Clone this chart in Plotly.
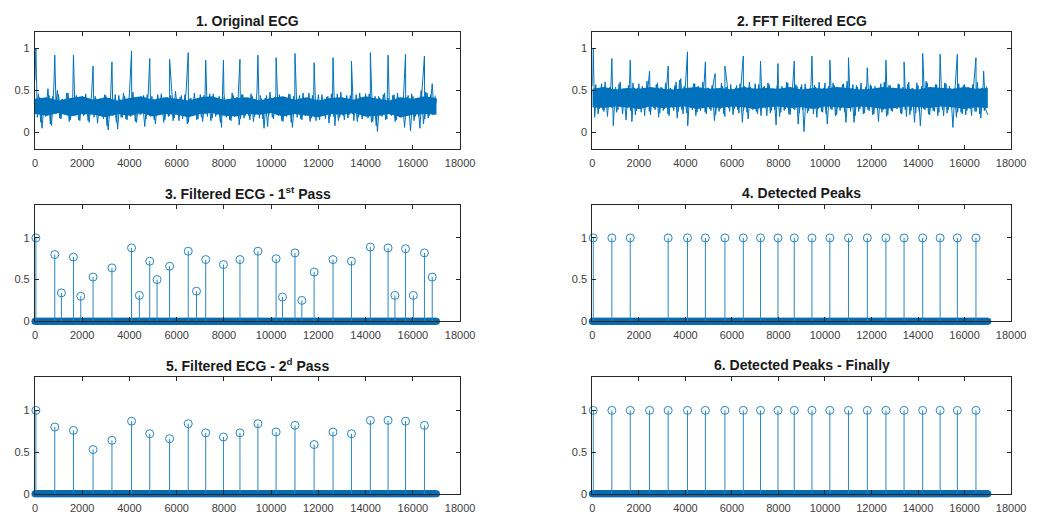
import plotly.graph_objects as go

W, H = 1060, 516

# ---------------- data ----------------
n_samples = 17000
noise_step = 100
core_step = 500

# beat (R-peak) sample positions
beats = [40, 840, 1630, 2460, 3260, 4090, 4860, 5700, 6490, 7230, 7980,
         8680, 9440, 10210, 11010, 11820, 12620, 13400, 14200, 14950, 15690, 16490]

# 1. original ECG: two interleaved noise traces (x = 0,100,..) and (x = 50,150,..)
ecg_raw_noise = [
    0.62, 0.18, 0.42, 0.05, 0.40, 0.20, 0.44, 0.08, 0.55, 0.22,
    0.45, 0.16, 0.38, 0.22, 0.47, 0.15, 0.42, 0.20, 0.40, 0.14,
    0.43, 0.21, 0.36, 0.12, 0.46, 0.18, 0.40, 0.22, 0.38, 0.16,
    0.44, 0.03, 0.40, 0.20, 0.45, 0.04, 0.39, 0.18, 0.43, 0.15,
    0.46, 0.20, 0.41, 0.12, 0.37, 0.22, 0.44, 0.16, 0.48, 0.19,
    0.40, 0.10, 0.45, 0.21, 0.38, 0.15, 0.42, 0.20, 0.47, 0.17,
    0.39, 0.14, 0.44, 0.20, 0.49, 0.12, 0.41, 0.22, 0.37, 0.16,
    0.45, 0.13, 0.40, 0.19, 0.46, 0.17, 0.38, 0.21, 0.43, 0.06,
    0.47, 0.18, 0.39, 0.14, 0.44, 0.22, 0.41, 0.16, 0.45, 0.20,
    0.38, 0.15, 0.43, 0.19, 0.48, 0.17, 0.40, 0.05, 0.44, 0.21,
    0.39, 0.16, 0.46, 0.20, 0.42, 0.13, 0.37, 0.21, 0.45, 0.06,
    0.41, 0.18, 0.44, 0.15, 0.39, 0.22, 0.47, 0.17, 0.40, 0.14,
    0.45, 0.20, 0.38, 0.16, 0.43, 0.19, 0.41, 0.08, 0.46, 0.18,
    0.40, 0.15, 0.44, 0.21, 0.37, 0.14, 0.45, 0.18, 0.42, 0.20,
    0.46, 0.17, 0.39, 0.13, 0.43, 0.01, 0.41, 0.19, 0.47, 0.16,
    0.38, 0.20, 0.45, 0.15, 0.42, 0.18, 0.40, 0.22, 0.44, 0.02,
    0.43, 0.19, 0.39, 0.05, 0.55, 0.16, 0.47, 0.20, 0.52, 0.22,
    0.40,
]
ecg_raw_noise_b = [
    0.30, 0.46, 0.12, 0.41, 0.19, 0.52, 0.10, 0.43, 0.24, 0.50,
    0.17, 0.40, 0.23, 0.47, 0.13, 0.39, 0.21, 0.44, 0.15, 0.42,
    0.20, 0.46, 0.14, 0.38, 0.22, 0.43, 0.11, 0.40, 0.19, 0.45,
    0.08, 0.41, 0.21, 0.36, 0.12, 0.44, 0.18, 0.47, 0.16, 0.40,
    0.19, 0.48, 0.13, 0.42, 0.21, 0.39, 0.07, 0.45, 0.20, 0.43,
    0.15, 0.40, 0.22, 0.46, 0.12, 0.38, 0.19, 0.44, 0.14, 0.49,
    0.21, 0.42, 0.16, 0.45, 0.10, 0.40, 0.20, 0.47, 0.15, 0.39,
    0.18, 0.44, 0.22, 0.41, 0.14, 0.46, 0.19, 0.38, 0.12, 0.43,
    0.21, 0.40, 0.15, 0.47, 0.19, 0.42, 0.09, 0.45, 0.17, 0.41,
    0.20, 0.46, 0.13, 0.39, 0.22, 0.44, 0.16, 0.41, 0.07, 0.48,
    0.18, 0.42, 0.21, 0.45, 0.14, 0.39, 0.19, 0.46, 0.12, 0.43,
    0.22, 0.40, 0.16, 0.47, 0.20, 0.41, 0.13, 0.44, 0.18, 0.39,
    0.15, 0.45, 0.21, 0.42, 0.11, 0.46, 0.19, 0.40, 0.14, 0.48,
    0.20, 0.41, 0.17, 0.44, 0.22, 0.39, 0.13, 0.47, 0.16, 0.42,
    0.19, 0.46, 0.12, 0.40, 0.08, 0.43, 0.20, 0.45, 0.15, 0.41,
    0.21, 0.44, 0.13, 0.47, 0.18, 0.39, 0.06, 0.42, 0.20, 0.46,
    0.14, 0.41, 0.19, 0.50, 0.10, 0.48, 0.17, 0.45, 0.21, 0.44,
]
ecg_raw_core_lo = [0.22, 0.20, 0.23, 0.19, 0.22, 0.21, 0.18, 0.22, 0.20, 0.23, 0.19, 0.22,
                   0.21, 0.18, 0.22, 0.23, 0.20, 0.19, 0.22, 0.21, 0.23, 0.19, 0.22, 0.20,
                   0.18, 0.22, 0.21, 0.23, 0.19, 0.20, 0.22, 0.18, 0.21, 0.22, 0.21]
ecg_raw_core_hi = [0.40, 0.42, 0.38, 0.41, 0.43, 0.39, 0.42, 0.38, 0.41, 0.43, 0.39, 0.42,
                   0.40, 0.38, 0.42, 0.43, 0.39, 0.41, 0.42, 0.38, 0.41, 0.43, 0.39, 0.42,
                   0.38, 0.41, 0.42, 0.39, 0.43, 0.40, 0.38, 0.42, 0.40, 0.43, 0.41]
ecg_raw_peak_x = beats + [16820]
ecg_raw_peak_h = [1.0, 0.92, 0.92, 0.79, 0.84, 0.97, 0.88, 0.87, 0.95, 0.86, 0.86,
                  0.87, 0.92, 0.89, 0.94, 0.83, 0.89, 0.85, 0.95, 0.92, 0.93, 0.91,
                  0.58]

# 2. FFT filtered ECG
ecg_fft_noise = [
    0.55, 0.18, 0.52, 0.28, 0.58, 0.25, 0.50, 0.30, 0.56, 0.08,
    0.54, 0.27, 0.60, 0.22, 0.51, 0.29, 0.57, 0.13, 0.53, 0.26,
    0.58, 0.24, 0.50, 0.30, 0.55, 0.21, 0.52, 0.27, 0.59, 0.23,
    0.53, 0.28, 0.57, 0.20, 0.51, 0.26, 0.60, 0.25, 0.64, 0.22,
    0.55, 0.08, 0.52, 0.27, 0.58, 0.24, 0.50, 0.29, 0.56, 0.22,
    0.53, 0.26, 0.59, 0.21, 0.51, 0.28, 0.55, 0.19, 0.57, 0.25,
    0.52, 0.28, 0.56, 0.23, 0.60, 0.26, 0.51, 0.16, 0.54, 0.27,
    0.58, 0.22, 0.52, 0.29, 0.55, 0.20, 0.57, 0.26, 0.51, 0.09,
    0.56, 0.24, 0.53, 0.28, 0.59, 0.21, 0.50, 0.27, 0.55, 0.23,
    0.57, 0.01, 0.52, 0.26, 0.58, 0.22, 0.54, 0.28, 0.51, 0.24,
    0.59, 0.10, 0.53, 0.27, 0.56, 0.21, 0.50, 0.29, 0.58, 0.12,
    0.52, 0.25, 0.57, 0.20, 0.54, 0.28, 0.51, 0.23, 0.59, 0.26,
    0.55, 0.22, 0.52, 0.13, 0.58, 0.27, 0.53, 0.21, 0.56, 0.25,
    0.51, 0.28, 0.57, 0.22, 0.54, 0.19, 0.60, 0.26, 0.52, 0.23,
    0.56, 0.08, 0.53, 0.27, 0.59, 0.21, 0.51, 0.25, 0.57, 0.24,
    0.54, 0.20, 0.58, 0.27, 0.52, 0.06, 0.56, 0.24, 0.50, 0.22,
    0.57, 0.26, 0.53, 0.20, 0.59, 0.25, 0.52, 0.17, 0.56, 0.28,
    0.21,
]
ecg_fft_noise_b = [
    0.30, 0.57, 0.22, 0.53, 0.27, 0.60, 0.19, 0.54, 0.29, 0.51,
    0.24, 0.58, 0.30, 0.52, 0.15, 0.56, 0.26, 0.59, 0.21, 0.53,
    0.28, 0.55, 0.20, 0.61, 0.25, 0.52, 0.29, 0.57, 0.18, 0.54,
    0.26, 0.59, 0.22, 0.53, 0.30, 0.56, 0.17, 0.62, 0.27, 0.55,
    0.23, 0.52, 0.29, 0.58, 0.20, 0.55, 0.26, 0.60, 0.24, 0.53,
    0.28, 0.56, 0.14, 0.52, 0.25, 0.59, 0.22, 0.54, 0.29, 0.57,
    0.21, 0.53, 0.27, 0.58, 0.12, 0.55, 0.24, 0.60, 0.28, 0.52,
    0.25, 0.57, 0.20, 0.54, 0.29, 0.59, 0.23, 0.52, 0.27, 0.56,
    0.19, 0.55, 0.26, 0.60, 0.22, 0.53, 0.28, 0.57, 0.10, 0.54,
    0.27, 0.58, 0.23, 0.52, 0.29, 0.56, 0.18, 0.60, 0.25, 0.53,
    0.22, 0.55, 0.28, 0.59, 0.20, 0.53, 0.26, 0.57, 0.24, 0.61,
    0.29, 0.52, 0.12, 0.56, 0.25, 0.59, 0.22, 0.54, 0.27, 0.57,
    0.21, 0.55, 0.28, 0.52, 0.24, 0.60, 0.19, 0.56, 0.26, 0.53,
    0.29, 0.58, 0.23, 0.54, 0.27, 0.57, 0.21, 0.53, 0.12, 0.59,
    0.25, 0.55, 0.28, 0.61, 0.22, 0.54, 0.26, 0.57, 0.20, 0.53,
    0.27, 0.59, 0.23, 0.55, 0.29, 0.52, 0.18, 0.58, 0.24, 0.56,
    0.21, 0.54, 0.28, 0.57, 0.25, 0.60, 0.22, 0.53, 0.26, 0.55,
]
ecg_fft_core_lo = [0.30, 0.29, 0.31, 0.30, 0.28, 0.31, 0.29, 0.30, 0.31, 0.28, 0.30, 0.29,
                   0.31, 0.30, 0.28, 0.30, 0.31, 0.29, 0.30, 0.28, 0.31, 0.30, 0.29, 0.31,
                   0.30, 0.28, 0.29, 0.31, 0.30, 0.29, 0.31, 0.30, 0.28, 0.30, 0.29]
ecg_fft_core_hi = [0.52, 0.54, 0.51, 0.53, 0.52, 0.54, 0.52, 0.51, 0.53, 0.54, 0.52, 0.53,
                   0.51, 0.54, 0.52, 0.53, 0.52, 0.54, 0.51, 0.53, 0.52, 0.54, 0.53, 0.51,
                   0.52, 0.54, 0.53, 0.52, 0.51, 0.54, 0.53, 0.52, 0.54, 0.52, 0.53]
ecg_fft_peak_x = beats + [5280, 16820]
ecg_fft_peak_h = [1.0, 0.88, 0.86, 0.73, 0.79, 0.96, 0.84, 0.79, 0.91, 0.85, 0.82,
                  0.85, 0.91, 0.86, 0.89, 0.77, 0.86, 0.84, 0.94, 0.93, 0.93, 0.89,
                  0.70, 0.73]

# 3. Filtered ECG - 1st pass (stems)
pass1_x = beats + [1120, 1940, 4420, 5170, 6840, 10480, 11300, 15240, 16020, 16820]
pass1_h = [1.0, 0.80, 0.77, 0.53, 0.64, 0.88, 0.72, 0.66, 0.84, 0.74, 0.68,
           0.74, 0.84, 0.75, 0.82, 0.59, 0.74, 0.72, 0.89, 0.88, 0.87, 0.82,
           0.34, 0.30, 0.31, 0.50, 0.36, 0.29, 0.25, 0.31, 0.31, 0.53]

# 4. Detected peaks (first pass)
det1_x = [b for b in beats if b != 2460]
det1_h = [1.0] * len(det1_x)

# 5. Filtered ECG - 2nd pass
pass2_x = beats
pass2_h = [1.0, 0.80, 0.76, 0.53, 0.64, 0.87, 0.72, 0.66, 0.84, 0.73, 0.68,
           0.73, 0.84, 0.74, 0.82, 0.59, 0.74, 0.72, 0.88, 0.88, 0.87, 0.82]

# 6. Detected peaks - finally
det2_x = beats
det2_h = [1.0] * len(det2_x)

x_ticks = list(range(0, 18001, 2000))
x_tick_text = [str(v) for v in x_ticks]
y_ticks = [0, 0.5, 1]
y_tick_text = ["0", "0.5", "1"]

titles = ["1. Original ECG", "2. FFT Filtered ECG",
          "3. Filtered ECG - 1<sup>st</sup> Pass", "4. Detected Peaks",
          "5. Filtered ECG - 2<sup>d</sup> Pass", "6. Detected Peaks - Finally"]

# ---------------- layout geometry ----------------
cols_x = [[32.5 / W, 465 / W], [599.5 / W, 1025.5 / W]]
rows_y = [[1 - 151 / H, 1 - 32 / H], [1 - 325 / H, 1 - 207 / H], [1 - 499.5 / H, 1 - 381.5 / H]]
title_y = [1 - 21 / H, 1 - 195 / H, 1 - 369 / H]

BLUE = "#0072BD"
STEM = "#2A86BF"
fig = go.Figure()


def axn(idx):
    return "" if idx == 1 else str(idx)


def signal_series(noise, offset, peak_x=None, peak_h=None):
    pts = [(offset + i * noise_step, v) for i, v in enumerate(noise)]
    if peak_x:
        pts += list(zip(peak_x, peak_h))
    pts.sort(key=lambda p: p[0])
    return [p[0] for p in pts], [p[1] for p in pts]


def add_signal(idx, noise_a, noise_b, core_lo, core_hi, peak_x, peak_h):
    a = axn(idx)
    cx = [i * core_step for i in range(len(core_lo))]
    fig.add_trace(go.Scatter(x=cx, y=core_lo, mode="lines", line=dict(width=0, color=BLUE),
                             xaxis="x" + a, yaxis="y" + a, showlegend=False, hoverinfo="skip"))
    fig.add_trace(go.Scatter(x=cx, y=core_hi, mode="lines", line=dict(width=0, color=BLUE),
                             fill="tonexty", fillcolor=BLUE,
                             xaxis="x" + a, yaxis="y" + a, showlegend=False, hoverinfo="skip"))
    xb, yb = signal_series(noise_b, noise_step // 2)
    fig.add_trace(go.Scatter(x=xb, y=yb, mode="lines",
                             line=dict(color=BLUE, width=1, simplify=False),
                             xaxis="x" + a, yaxis="y" + a, showlegend=False, hoverinfo="skip"))
    xa, ya = signal_series(noise_a, 0, peak_x, peak_h)
    fig.add_trace(go.Scatter(x=xa, y=ya, mode="lines",
                             line=dict(color=BLUE, width=1, simplify=False),
                             xaxis="x" + a, yaxis="y" + a, showlegend=False, hoverinfo="skip"))


def add_stem(idx, xs, hs):
    a = axn(idx)
    # baseline of zero-valued samples
    zx = list(range(0, n_samples + 1, 40))
    fig.add_trace(go.Scatter(x=zx, y=[0] * len(zx), mode="markers",
                             marker=dict(symbol="circle", size=7, color="#0A6BAE",
                                         line=dict(width=0)),
                             cliponaxis=False,
                             xaxis="x" + a, yaxis="y" + a,
                             showlegend=False, hoverinfo="skip"))
    sx, sy = [], []
    for x, h in zip(xs, hs):
        sx += [x, x, None]
        sy += [0, h, None]
    fig.add_trace(go.Scatter(x=sx, y=sy, mode="lines",
                             line=dict(color=STEM, width=1),
                             xaxis="x" + a, yaxis="y" + a,
                             showlegend=False, hoverinfo="skip"))
    fig.add_trace(go.Scatter(x=xs, y=hs, mode="markers",
                             marker=dict(symbol="circle-open", size=8, color=STEM,
                                         line=dict(width=1, color=STEM)),
                             cliponaxis=False,
                             xaxis="x" + a, yaxis="y" + a,
                             showlegend=False, hoverinfo="skip"))


add_signal(1, ecg_raw_noise, ecg_raw_noise_b, ecg_raw_core_lo, ecg_raw_core_hi,
           ecg_raw_peak_x, ecg_raw_peak_h)
add_signal(2, ecg_fft_noise, ecg_fft_noise_b, ecg_fft_core_lo, ecg_fft_core_hi,
           ecg_fft_peak_x, ecg_fft_peak_h)
add_stem(3, pass1_x, pass1_h)
add_stem(4, det1_x, det1_h)
add_stem(5, pass2_x, pass2_h)
add_stem(6, det2_x, det2_h)

axis_common = dict(showline=True, linecolor="#262626", linewidth=1, mirror="ticks",
                   ticks="inside", ticklen=4, tickwidth=1, tickcolor="#262626",
                   showgrid=False, zeroline=False, fixedrange=True,
                   tickfont=dict(family="Liberation Sans, Arial, sans-serif", size=11,
                                 color="#404040"))

layout = dict(width=W, height=H, margin=dict(l=0, r=0, t=0, b=0),
              paper_bgcolor="white", plot_bgcolor="white", showlegend=False)
annotations = []
for i in range(6):
    r, c = divmod(i, 2)
    a = axn(i + 1)
    layout["xaxis" + a] = dict(axis_common, domain=cols_x[c], range=[0, 18000],
                               tickvals=x_ticks, ticktext=x_tick_text, anchor="y" + a,
                               ticklabelstandoff=4)
    yr = [-0.2, 1.2] if r == 0 else [0, 1.4]
    layout["yaxis" + a] = dict(axis_common, domain=rows_y[r], range=yr,
                               tickvals=y_ticks, ticktext=y_tick_text, anchor="x" + a,
                               ticklabelstandoff=2)
    annotations.append(dict(text="<b>" + titles[i] + "</b>", xref="paper", yref="paper",
                            x=(cols_x[c][0] + cols_x[c][1]) / 2, y=title_y[r],
                            xanchor="center", yanchor="middle", showarrow=False,
                            font=dict(family="Liberation Sans, Arial, sans-serif",
                                      size=14, color="#1a1a1a")))
layout["annotations"] = annotations
fig.update_layout(**layout)
fig.write_html("out.html")
